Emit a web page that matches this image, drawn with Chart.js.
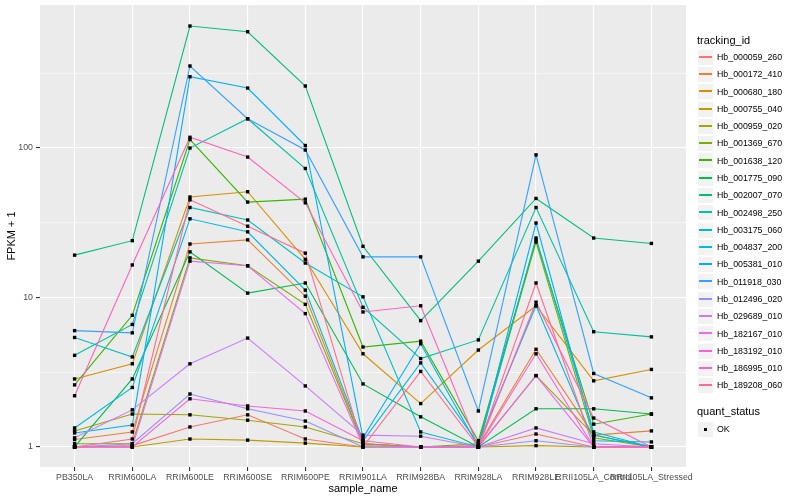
<!DOCTYPE html>
<html>
<head>
<meta charset="utf-8">
<script src="https://cdn.jsdelivr.net/npm/chart.js@4.4.1/dist/chart.umd.min.js"></script>
<style>
  html, body { margin: 0; padding: 0; background: #fff; }
  #wrap { position: relative; width: 800px; height: 500px; font-family: "Liberation Sans", Arial, sans-serif; }
  #myChart { position: absolute; left: 0; top: 0; }
  .lg { position: absolute; white-space: nowrap; color: #000; }
  .key { position: absolute; width: 17px; height: 17px; background: #F2F2F2; border: 1px solid #fff; box-sizing: border-box; }
  .key .ln { position: absolute; left: 1px; top: 6px; width: 13px; height: 2px; }
  .key .dot { position: absolute; left: 6px; top: 6px; width: 3px; height: 3px; background: #000; }
</style>
</head>
<body>
<div id="wrap">
  <canvas id="myChart" width="800" height="500"></canvas>
  <div id="legend"></div>
</div>
<script>
const categories = ["PB350LA", "RRIM600LA", "RRIM600LE", "RRIM600SE", "RRIM600PE", "RRIM901LA",
  "RRIM928BA", "RRIM928LA", "RRIM928LE", "RRII105LA_Control", "RRII105LA_Stressed"];

const trackingIds = ["Hb_000059_260", "Hb_000172_410", "Hb_000680_180", "Hb_000755_040", "Hb_000959_020",
  "Hb_001369_670", "Hb_001638_120", "Hb_001775_090", "Hb_002007_070", "Hb_002498_250",
  "Hb_003175_060", "Hb_004837_200", "Hb_005381_010", "Hb_011918_030", "Hb_012496_020",
  "Hb_029689_010", "Hb_182167_010", "Hb_183192_010", "Hb_186995_010", "Hb_189208_060"];

const lineColors = ["#F8766D", "#EA8331", "#D89000", "#C09B00", "#A3A500", "#7CAE00", "#39B600", "#00BB4E",
  "#00BF7D", "#00C1A3", "#00BFC4", "#00BAE0", "#00B0F6", "#35A2FF", "#9590FF", "#C77CFF",
  "#E76BF3", "#FA62DB", "#FF62BC", "#FF6C91"];

// FPKM + 1, one value per sample (same order as categories)
const hb_000059_260 = [1.0, 1.02, 1.36, 1.64, 1.13, 1.0, 1.0, 1.0, 1.22, 1.0, 1.0];
const hb_000172_410 = [1.12, 1.26, 22.8, 24.3, 10.2, 1.05, 1.0, 1.02, 4.5, 1.2, 1.28];
const hb_000680_180 = [2.85, 3.6, 47, 51, 18, 4.2, 1.95, 4.45, 8.8, 2.77, 3.3];
const hb_000755_040 = [1.0, 1.0, 1.13, 1.11, 1.06, 1.0, 1.0, 1.0, 1.02, 1.0, 1.0];
const hb_000959_020 = [1.28, 1.66, 1.64, 1.51, 1.36, 1.05, 1.0, 1.0, 3.0, 1.2, 1.0];
const hb_001369_670 = [1.05, 1.05, 18.4, 16.3, 9.0, 1.05, 1.0, 1.05, 23.5, 1.15, 1.0];
const hb_001638_120 = [2.6, 7.6, 114, 43.5, 45.5, 4.66, 5.1, 1.1, 24.3, 1.42, 1.66];
const hb_001775_090 = [1.0, 2.85, 20.2, 10.7, 12.5, 2.64, 1.59, 1.0, 1.8, 1.8, 1.66];
const hb_002007_070 = [19.2, 24, 655, 600, 260, 22, 7.0, 17.5, 46, 25, 23];
const hb_002498_250 = [4.1, 6.6, 100, 157, 73, 8.6, 3.9, 5.2, 40, 5.9, 5.45];
const hb_003175_060 = [5.4, 4.0, 40, 33, 17, 10.1, 1.26, 1.0, 25, 1.26, 1.0];
const hb_004837_200 = [1.34, 2.5, 33.6, 27.5, 11.2, 1.1, 3.65, 1.05, 8.8, 1.1, 1.08];
const hb_005381_010 = [1.24, 1.4, 300, 252, 104, 1.15, 4.9, 1.0, 31.5, 1.2, 1.0];
const hb_011918_030 = [6.0, 5.8, 354, 157, 97, 18.7, 18.7, 1.74, 90, 3.1, 2.13];
const hb_012496_020 = [1.0, 1.05, 2.26, 1.8, 1.49, 1.0, 1.0, 1.0, 1.1, 1.0, 1.0];
const hb_029689_010 = [1.15, 1.77, 3.6, 5.35, 2.56, 1.2, 1.18, 1.0, 1.34, 1.05, 1.0];
const hb_182167_010 = [1.0, 1.0, 17.5, 16.3, 7.8, 1.02, 1.0, 1.0, 3.0, 1.0, 1.0];
const hb_183192_010 = [1.0, 1.0, 2.1, 1.88, 1.74, 1.1, 1.0, 1.0, 4.2, 1.0, 1.0];
const hb_186995_010 = [2.2, 16.5, 118, 87, 43, 8.0, 8.8, 1.0, 9.3, 1.56, 1.0];
const hb_189208_060 = [1.0, 1.13, 45, 30, 19.8, 1.0, 3.2, 1.0, 12.5, 1.0, 1.0];

const seriesValues = [hb_000059_260, hb_000172_410, hb_000680_180, hb_000755_040, hb_000959_020,
  hb_001369_670, hb_001638_120, hb_001775_090, hb_002007_070, hb_002498_250,
  hb_003175_060, hb_004837_200, hb_005381_010, hb_011918_030, hb_012496_020,
  hb_029689_010, hb_182167_010, hb_183192_010, hb_186995_010, hb_189208_060];

const yTickValues = [1, 10, 100];
const yTickLabels = ["1", "10", "100"];
const yMinorValues = [3.1623, 31.623, 316.23];

const FONT = "'Liberation Sans', Arial, sans-serif";

// lines, first gene at the bottom like ggplot draws them
const datasets = trackingIds.map((id, i) => ({
  label: id,
  data: seriesValues[i].map((v, j) => ({x: j, y: v})),
  borderColor: lineColors[i],
  borderWidth: 1.1,
  pointRadius: 0,
  fill: false,
  tension: 0,
  order: 100 - i
}));

// quant_status = OK points on top of every line
let okPoints = [];
seriesValues.forEach(vals => vals.forEach((v, j) => okPoints.push({x: j, y: v})));
datasets.push({
  label: "OK",
  data: okPoints,
  showLine: false,
  pointStyle: "rect",
  pointRadius: 2.4,
  pointBackgroundColor: "#000",
  pointBorderWidth: 0,
  borderColor: "#000",
  order: -1
});

const panelBg = {
  id: "panelBg",
  beforeDraw(chart) {
    const {ctx, chartArea: a} = chart;
    ctx.save();
    ctx.fillStyle = "#fff";
    ctx.fillRect(0, 0, chart.width, chart.height);
    ctx.fillStyle = "#EBEBEB";
    ctx.fillRect(a.left, a.top, a.right - a.left, a.bottom - a.top);
    ctx.restore();
  }
};

function isMinor(v) { return yTickValues.indexOf(v) < 0; }

const chart = new Chart("myChart", {
  type: "line",
  data: {datasets: datasets},
  plugins: [panelBg],
  options: {
    responsive: false,
    animation: false,
    layout: {padding: {left: 0, right: 114, top: 5, bottom: 0}},
    plugins: {legend: {display: false}, tooltip: {enabled: false}},
    scales: {
      x: {
        type: "linear",
        min: -0.6,
        max: 10.6,
        bounds: "data",
        afterBuildTicks: s => { s.ticks = categories.map((c, i) => ({value: i})); },
        afterFit: s => { s.height = 33; s.paddingLeft = 0; s.paddingRight = 0; },
        ticks: {
          callback: (v, i) => categories[i],
          color: "#4D4D4D",
          font: {family: FONT, size: 8.8},
          maxRotation: 0,
          autoSkip: false,
          padding: 1
        },
        grid: {color: "#fff", lineWidth: 1.1, tickColor: "#333", tickLength: 4},
        border: {display: false},
        title: {display: true, text: "sample_name", color: "#000",
          font: {family: FONT, size: 11}, padding: {top: 2, bottom: 4}}
      },
      y: {
        type: "logarithmic",
        min: 0.734,
        max: 906,
        bounds: "data",
        afterBuildTicks: s => {
          s.ticks = yTickValues.concat(yMinorValues).sort((a, b) => a - b).map(v => ({value: v}));
        },
        afterFit: s => { s.width = 40; s.paddingTop = 0; s.paddingBottom = 0; },
        ticks: {
          callback: v => { const k = yTickValues.indexOf(v); return k < 0 ? "" : yTickLabels[k]; },
          color: "#4D4D4D",
          font: {family: FONT, size: 8.8},
          padding: 3,
          autoSkip: false
        },
        grid: {
          color: "#fff",
          lineWidth: ctx => (ctx.tick && isMinor(ctx.tick.value)) ? 0.55 : 1.1,
          tickColor: ctx => (ctx.tick && isMinor(ctx.tick.value)) ? "rgba(0,0,0,0)" : "#333",
          tickLength: 4
        },
        border: {display: false},
        title: {display: true, text: "FPKM + 1", color: "#000",
          font: {family: FONT, size: 11}, padding: {top: 5, bottom: 2}}
      }
    }
  }
});

// legend, built from the same names and colours
const legend = document.getElementById("legend");
function addText(text, x, yc, size) {
  const d = document.createElement("div");
  d.className = "lg";
  d.textContent = text;
  d.style.left = x + "px";
  d.style.top = Math.round(yc - size * 0.6) + "px";
  d.style.fontSize = size + "px";
  d.style.lineHeight = (size * 1.2) + "px";
  legend.appendChild(d);
}
function addKey(yc, color, dot) {
  const k = document.createElement("div");
  k.className = "key";
  k.style.left = "697px";
  k.style.top = Math.round(yc - 8.5) + "px";
  const inner = document.createElement("div");
  inner.className = dot ? "dot" : "ln";
  if (!dot) inner.style.background = color;
  k.appendChild(inner);
  legend.appendChild(k);
}

addText("tracking_id", 697, 40.5, 11);
trackingIds.forEach((id, i) => {
  const yc = 57.3 + i * 17.28;
  addKey(yc, lineColors[i], false);
  addText(id, 717, yc, 8.8);
});
addText("quant_status", 697, 412, 11);
addKey(429.5, "#000", true);
addText("OK", 717, 429.5, 8.8);
</script>
</body>
</html>
